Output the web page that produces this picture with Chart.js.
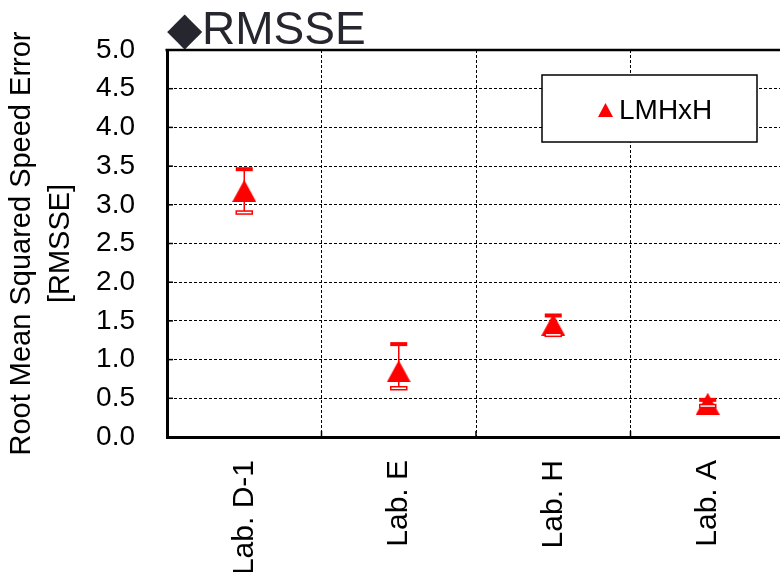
<!DOCTYPE html>
<html>
<head>
<meta charset="utf-8">
<script src="https://cdn.jsdelivr.net/npm/chart.js@4/dist/chart.umd.min.js"></script>
<style>
html,body{margin:0;padding:0;background:#fff;overflow:hidden;width:780px;height:572px;}
canvas{display:block;}
</style>
</head>
<body>
<canvas id="c" width="800" height="572"></canvas>
<script>
const categories = ['Lab. D-1', 'Lab. E', 'Lab. H', 'Lab. A'];
const seriesName = 'LMHxH';
const rmsseValues = [3.18, 0.85, 1.45, 0.43];
const upperValues = [3.46, 1.20, 1.57, 0.48];
const lowerValues = [2.90, 0.63, 1.32, 0.40];
const yTickValues = [0, 0.5, 1, 1.5, 2, 2.5, 3, 3.5, 4, 4.5, 5];
const chartTitle = '◆RMSSE';
const yTitle = ['Root Mean Squared Speed Error', '[RMSSE]'];

const RED = '#ff0000';
const FONT = "'Liberation Sans', Arial, sans-serif";

function triCanvas(w, h) {
  const cv = document.createElement('canvas');
  cv.width = w; cv.height = h;
  const c = cv.getContext('2d');
  c.fillStyle = RED;
  c.beginPath();
  c.moveTo(w / 2, 0);
  c.lineTo(w, h);
  c.lineTo(0, h);
  c.closePath();
  c.fill();
  return cv;
}
const markerImg = triCanvas(24, 22);

const errorBars = {
  id: 'errorBars',
  afterDatasetsDraw(chart) {
    const ctx = chart.ctx;
    const x = chart.scales.x, y = chart.scales.y;
    ctx.save();
    categories.forEach((cat, i) => {
      const px = x.getPixelForValue(i);
      const yu = y.getPixelForValue(upperValues[i]);
      const yl = y.getPixelForValue(lowerValues[i]);
      ctx.strokeStyle = RED;
      ctx.lineWidth = 1.5;
      ctx.beginPath();
      ctx.moveTo(px, yu);
      ctx.lineTo(px, yl);
      ctx.stroke();
      ctx.fillStyle = RED;
      ctx.fillRect(px - 8.5, yu - 2, 17, 4);
      ctx.fillStyle = '#fff';
      ctx.fillRect(px - 8, yl - 1.5, 16, 3);
      ctx.strokeRect(px - 8, yl - 1.5, 16, 3);
    });
    ctx.restore();
  }
};

const frame = {
  id: 'frame',
  afterDraw(chart) {
    const ctx = chart.ctx;
    const a = chart.chartArea;
    const y = chart.scales.y, x = chart.scales.x;
    ctx.save();
    ctx.strokeStyle = '#000';
    ctx.lineWidth = 2.5;
    ctx.beginPath();
    ctx.moveTo(a.left - 1.5, a.top);
    ctx.lineTo(a.right + 20, a.top);
    ctx.stroke();
    ctx.lineWidth = 1.5;
    yTickValues.forEach(v => {
      const py = y.getPixelForValue(v);
      ctx.beginPath();
      ctx.moveTo(a.left, py);
      ctx.lineTo(a.left + 6, py);
      ctx.stroke();
    });
    for (let i = 1; i < categories.length; i++) {
      const px = (x.getPixelForValue(i - 1) + x.getPixelForValue(i)) / 2;
      ctx.beginPath();
      ctx.moveTo(px, a.bottom);
      ctx.lineTo(px, a.bottom - 6);
      ctx.stroke();
    }
    const bx = 542, by = 75, bw = 215, bh = 67;
    ctx.fillStyle = '#fff';
    ctx.fillRect(bx, by, bw, bh);
    ctx.lineWidth = 1.5;
    ctx.strokeStyle = '#000';
    ctx.strokeRect(bx, by, bw, bh);
    ctx.fillStyle = RED;
    ctx.beginPath();
    ctx.moveTo(605.5, 103);
    ctx.lineTo(613, 117);
    ctx.lineTo(598, 117);
    ctx.closePath();
    ctx.fill();
    ctx.fillStyle = '#000';
    ctx.font = '28px ' + FONT;
    ctx.textBaseline = 'middle';
    ctx.textAlign = 'left';
    ctx.fillText(seriesName, 619, 111);
    ctx.restore();
  }
};

new Chart(document.getElementById('c'), {
  type: 'line',
  data: {
    labels: categories,
    datasets: [{
      label: seriesName,
      data: rmsseValues,
      showLine: false,
      pointStyle: markerImg,
      pointRadius: 12,
      pointHoverRadius: 12,
      backgroundColor: RED,
      borderColor: RED
    }]
  },
  options: {
    responsive: false,
    animation: false,
    events: [],
    layout: { padding: { top: 0, right: 15, left: 0, bottom: 0 } },
    plugins: {
      legend: { display: false },
      tooltip: { enabled: false },
      title: {
        display: true,
        text: chartTitle,
        align: 'start',
        fullSize: false,
        color: '#26262e',
        font: { family: FONT, size: 46, lineHeight: 38 / 46, weight: 'normal' },
        padding: { top: 12, bottom: 0 }
      }
    },
    scales: {
      x: {
        type: 'category',
        offset: true,
        grid: { offset: true, color: '#000', lineWidth: 1, drawTicks: false },
        border: { color: '#000', width: 3, dash: [3, 2] },
        ticks: {
          color: '#000',
          font: { family: FONT, size: 30 },
          minRotation: 90, maxRotation: 90,
          autoSkip: false,
          padding: 23
        },
        afterFit(s) { s.height = 135; }
      },
      y: {
        min: 0, max: 5,
        afterBuildTicks(s) { s.ticks = yTickValues.map(v => ({ value: v })); },
        grid: { color: '#000', lineWidth: 1, drawTicks: false },
        border: { color: '#000', width: 3, dash: [3, 2] },
        ticks: {
          color: '#000',
          font: { family: FONT, size: 28 },
          padding: 32,
          callback: v => Number(v).toFixed(1)
        },
        title: {
          display: true,
          text: yTitle,
          color: '#000',
          font: { family: FONT, size: 29, lineHeight: 1.33 },
          padding: { top: 3, bottom: 0 }
        },
        afterFit(s) { s.width = 167; }
      }
    }
  },
  plugins: [errorBars, frame]
});
</script>
</body>
</html>
